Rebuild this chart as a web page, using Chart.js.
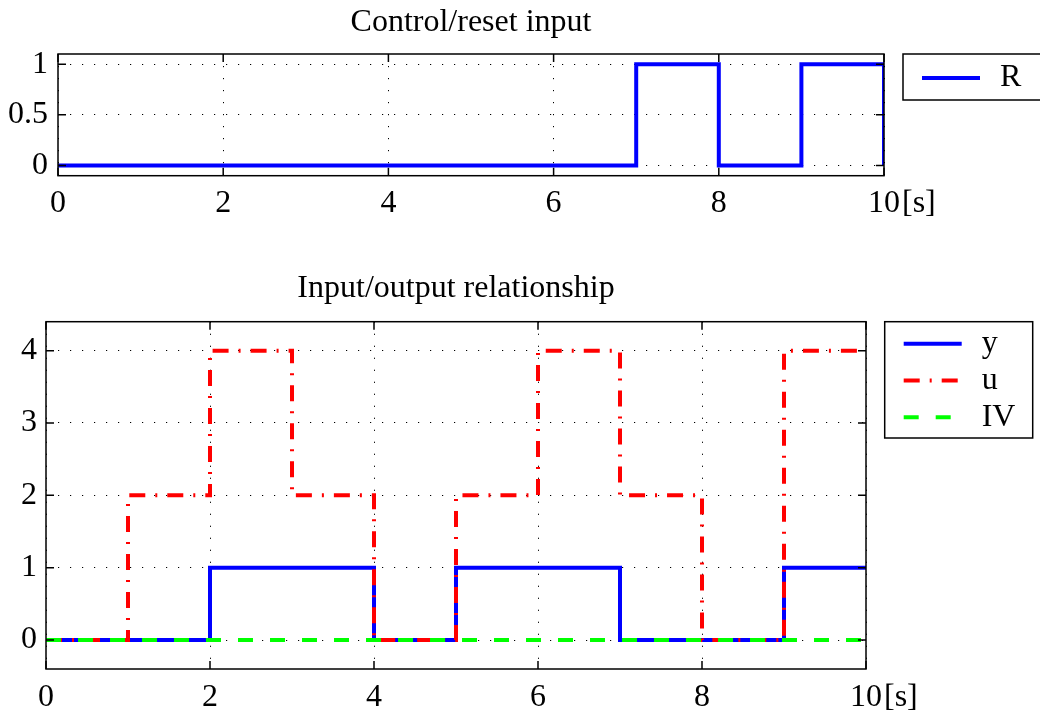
<!DOCTYPE html>
<html>
<head>
<meta charset="utf-8">
<title>Control/reset input</title>
<script src="https://cdn.jsdelivr.net/npm/chart.js@4.4.1/dist/chart.umd.min.js"></script>
<style>
  html, body { margin: 0; padding: 0; background: #fff; }
  #wrap { position: relative; width: 1040px; height: 715px; overflow: hidden; }
  canvas { position: absolute; left: 0; }
  #topChart { top: 0; }
  #bottomChart { top: 240px; }
</style>
</head>
<body>
<div id="wrap">
  <canvas id="topChart" width="1040" height="240"></canvas>
  <canvas id="bottomChart" width="1040" height="475"></canvas>
</div>
<script>
// Sample times [s], each value is held until the next sample
const timeSteps = [0, 1, 2, 3, 4, 5, 6, 7, 8, 9, 10];

// Signals
const resetSignal = [0, 0, 0, 0, 0, 0, 0, 1, 0, 1, 0];
const ySignal     = [0, 0, 1, 1, 0, 1, 1, 0, 0, 1, 1];
const uSignal     = [0, 2, 4, 2, 0, 2, 4, 2, 0, 4, 4];
const ivSignal    = [0, 0, 0, 0, 0, 0, 0, 0, 0, 0, 0];

// Tick labels
const timeTicks  = [0, 2, 4, 6, 8, 10];
const resetTicks = [0, 0.5, 1];
const ioTicks    = [0, 1, 2, 3, 4];

const FONT_FAMILY = '"Liberation Serif", "Times New Roman", serif';
const FONT_SIZE = 32;
const LABEL_PAD = 9;

function toPoints(values) {
  return timeSteps.map((t, i) => ({ x: t, y: values[i] }));
}

// Matlab-like box, inward ticks, unit label and boxed legend
const matlabAxes = {
  id: 'matlabAxes',
  afterDatasetsDraw(chart, args, opts) {
    const { ctx, chartArea: a, scales } = chart;
    const tickLen = 8;
    ctx.save();
    ctx.strokeStyle = '#000';
    ctx.lineWidth = 1.5;
    ctx.setLineDash([]);
    ctx.beginPath();
    scales.x.ticks.forEach(t => {
      const px = scales.x.getPixelForValue(t.value);
      ctx.moveTo(px, a.bottom); ctx.lineTo(px, a.bottom - tickLen);
      ctx.moveTo(px, a.top); ctx.lineTo(px, a.top + tickLen);
    });
    scales.y.ticks.forEach(t => {
      const py = scales.y.getPixelForValue(t.value);
      ctx.moveTo(a.left, py); ctx.lineTo(a.left + tickLen, py);
      ctx.moveTo(a.right, py); ctx.lineTo(a.right - tickLen, py);
    });
    ctx.stroke();
    ctx.strokeRect(a.left, a.top, a.right - a.left, a.bottom - a.top);

    // unit after the last tick label
    ctx.fillStyle = '#000';
    ctx.font = FONT_SIZE + 'px ' + FONT_FAMILY;
    ctx.textBaseline = 'middle';
    ctx.textAlign = 'left';
    ctx.fillText('[s]', a.right + 18, scales.x.top + LABEL_PAD + FONT_SIZE * 0.6);

    // legend
    const bx = a.right + opts.gap;
    const by = a.top;
    ctx.fillStyle = '#fff';
    ctx.fillRect(bx, by, opts.width, opts.height);
    ctx.strokeRect(bx, by, opts.width, opts.height);
    chart.data.datasets.forEach((ds, i) => {
      const ly = by + opts.rowStart + i * opts.rowGap;
      ctx.beginPath();
      ctx.strokeStyle = ds.borderColor;
      ctx.lineWidth = ds.borderWidth;
      ctx.setLineDash(ds.borderDash || []);
      ctx.moveTo(bx + 19, ly);
      ctx.lineTo(bx + 77, ly);
      ctx.stroke();
      ctx.fillStyle = '#000';
      ctx.fillText(ds.label, bx + 97, ly);
    });
    ctx.restore();
  }
};

function lineSet(label, values, color, dash, order) {
  return {
    label: label,
    data: toPoints(values),
    borderColor: color,
    borderWidth: 4,
    borderDash: dash,
    borderCapStyle: 'butt',
    stepped: true,
    pointRadius: 0,
    fill: false,
    order: order
  };
}

function axisOptions(min, max, ticks, labelPad) {
  return {
    type: 'linear',
    min: min,
    max: max,
    afterBuildTicks: s => { s.ticks = ticks.map(v => ({ value: v })); },
    ticks: {
      color: '#000',
      padding: labelPad,
      font: { family: FONT_FAMILY, size: FONT_SIZE },
      callback: v => String(v)
    },
    grid: { color: '#000', lineWidth: 1, drawTicks: false },
    border: { display: false, dash: [1.2, 10.8] }
  };
}

function makeChart(id, cfg) {
  const xAxis = axisOptions(0, 10, timeTicks, LABEL_PAD);
  xAxis.afterFit = s => { s.height = cfg.xHeight; };
  const yAxis = axisOptions(cfg.yMin, cfg.yMax, cfg.yTicks, cfg.yPad);
  yAxis.afterFit = s => { s.width = cfg.yWidth; };

  return new Chart(document.getElementById(id), {
    type: 'line',
    data: { datasets: cfg.datasets },
    options: {
      responsive: false,
      animation: false,
      events: [],
      layout: { padding: { left: 0, right: cfg.rightPad, top: 0, bottom: 0 } },
      scales: { x: xAxis, y: yAxis },
      plugins: {
        legend: { display: false },
        tooltip: { enabled: false },
        title: {
          display: true,
          text: cfg.title,
          color: '#000',
          fullSize: false,
          font: { family: FONT_FAMILY, size: FONT_SIZE, weight: 'normal' },
          padding: cfg.titlePad
        },
        matlabAxes: cfg.legend
      }
    },
    plugins: [matlabAxes]
  });
}

makeChart('topChart', {
  title: 'Control/reset input',
  titlePad: { top: 3, bottom: 12.6 },
  rightPad: 156,
  xHeight: 64.3,
  yWidth: 58,
  yPad: 10,
  yMin: -0.1,
  yMax: 1.1,
  yTicks: resetTicks,
  legend: { gap: 19, width: 160, height: 46, rowStart: 24, rowGap: 0 },
  datasets: [
    lineSet('R', resetSignal, '#0000ff', [], 1)
  ]
});

makeChart('bottomChart', {
  title: 'Input/output relationship',
  titlePad: { top: 29, bottom: 14.3 },
  rightPad: 174,
  xHeight: 46,
  yWidth: 46,
  yPad: 9,
  yMin: -0.4,
  yMax: 4.4,
  yTicks: ioTicks,
  legend: { gap: 18.7, width: 148, height: 116.3, rowStart: 22, rowGap: 36.8 },
  datasets: [
    lineSet('y', ySignal, '#0000ff', [], 3),
    lineSet('u', uSignal, '#ff0000', [16, 10, 2, 10], 2),
    lineSet('IV', ivSignal, '#00ff00', [15, 17], 1)
  ]
});
</script>
</body>
</html>
